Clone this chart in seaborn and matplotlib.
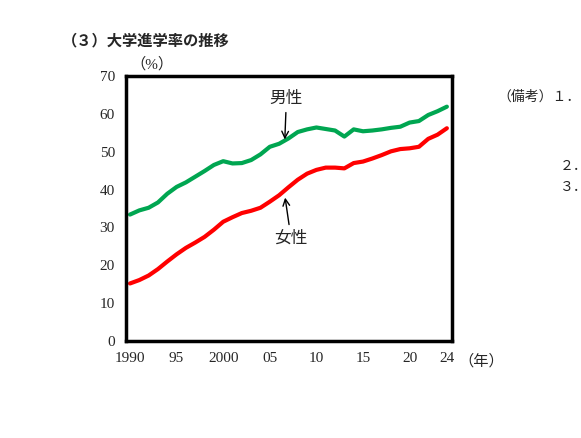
import matplotlib
matplotlib.use("Agg")
import matplotlib.pyplot as plt
import seaborn as sns
import pandas as pd

years = list(range(1990, 2025))
male = [33.4, 34.5, 35.2, 36.6, 38.9, 40.7, 41.9, 43.4, 44.9, 46.5, 47.5, 46.9, 47.0, 47.8, 49.3,
        51.3, 52.1, 53.5, 55.2, 55.9, 56.4, 56.0, 55.6, 54.0, 55.9, 55.4, 55.6, 55.9, 56.3, 56.6,
        57.7, 58.1, 59.7, 60.7, 61.9]
female = [15.2, 16.1, 17.3, 19.0, 21.0, 22.9, 24.6, 26.0, 27.5, 29.4, 31.5, 32.7, 33.8, 34.4, 35.2,
          36.8, 38.5, 40.6, 42.6, 44.2, 45.2, 45.8, 45.8, 45.6, 47.0, 47.4, 48.2, 49.1, 50.1, 50.7,
          50.9, 51.3, 53.4, 54.5, 56.2]
tick_years = [1990, 1995, 2000, 2005, 2010, 2015, 2020, 2024]
tick_labels = ["1990", "95", "2000", "05", "10", "15", "20", "24"]

df = pd.DataFrame({"year": years, "男性": male, "女性": female})

sns.set_theme(style="white")
serif = ['Liberation Serif', 'Noto Sans CJK JP']
plt.rcParams['font.family'] = serif

fig = plt.figure(figsize=(5.81, 4.38), dpi=100)
ax = fig.add_axes([126 / 581, 1 - 341 / 438, 326 / 581, 265 / 438])
sns.lineplot(data=df, x="year", y="男性", color="#00a651", lw=3, ax=ax)
sns.lineplot(data=df, x="year", y="女性", color="#ff0000", lw=3, ax=ax)

ax.set_xlim(1989.57, 2024.55)
ax.set_ylim(0, 70)
ax.set_xticks(tick_years)
ax.set_xticklabels(tick_labels)
ax.set_yticks(range(0, 71, 10))
ax.tick_params(labelsize=11, length=0, pad=8)
ax.set_xlabel("")
ax.set_ylabel("")
for s in ax.spines.values():
    s.set_linewidth(2.5)
    s.set_color("black")

ax.annotate("男性", xy=(2006.6, 52.5), xytext=(2005.0, 63.0), fontsize=12,
            arrowprops=dict(arrowstyle="->", color="black", lw=1))
ax.annotate("女性", xy=(2006.6, 38.6), xytext=(2005.5, 26.0), fontsize=12,
            arrowprops=dict(arrowstyle="->", color="black", lw=1))

fig.text(62 / 581, 1 - 40 / 438, "（３）大学進学率の推移", fontsize=11, fontweight="bold", va="center",
         family=['Noto Sans CJK JP', 'DejaVu Sans'])
fig.text(130 / 581, 1 - 64 / 438, "（%）", fontsize=11, va="center")
fig.text(458 / 581, 1 - 361 / 438, "（年）", fontsize=11, va="center")
fig.text(497 / 581, 1 - 97 / 438, "（備考）１．", fontsize=10, va="center")
fig.text(560 / 581, 1 - 166 / 438, "２．", fontsize=10, va="center")
fig.text(560 / 581, 1 - 187 / 438, "３．", fontsize=10, va="center")

fig.savefig("out.png", dpi=100)
